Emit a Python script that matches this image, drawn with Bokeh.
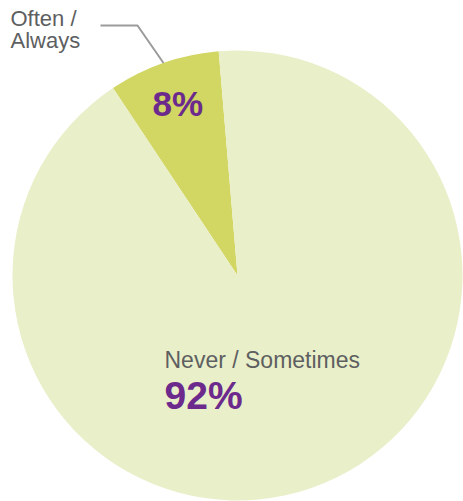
import numpy as np
from bokeh.plotting import figure
from bokeh.models import Range1d, Label
from bokeh.embed import file_html
from bokeh.resources import INLINE

# Data
categories = ["Often / Always", "Never / Sometimes"]
values = [8, 92]
pct_labels = ["8%", "92%"]
colors = ["#D2D662", "#E9EFC9"]

PURPLE = "#6B2A8C"
GRAY = "#5E5F61"
FONT = "Liberation Sans"

# Layout helpers (screen px of reference -> data units, pie centre at 0,0, radius 1)
CX, CY, R = 237.0, 275.0, 225.0


def px(x, y):
    return (x - CX) / R, (CY - y) / R


W, H = 463, 501
x0, y1 = px(0, 0)
x1, y0 = px(W, H)

p = figure(width=W, height=H, output_backend="svg", toolbar_location=None,
           x_range=Range1d(x0, x1), y_range=Range1d(y0, y1),
           min_border=0, outline_line_color=None, background_fill_color="white",
           border_fill_color="white")
p.axis.visible = False
p.grid.visible = False

start_deg = 94.8
fr = np.array(values, dtype=float) / sum(values)
ends = np.deg2rad(start_deg) + np.cumsum(fr) * 2 * np.pi
starts = np.concatenate([[np.deg2rad(start_deg)], ends[:-1]])

p.wedge(x=0, y=0, radius=1.0, start_angle=starts, end_angle=ends,
        fill_color=colors, line_color=None)

# Leader line for the small slice
mid = (starts[0] + ends[0]) / 2
lx, ly = np.cos(mid) * 1.0, np.sin(mid) * 1.0
ex, ey = px(137, 25)
hx, hy = px(100, 25)
p.line(x=[lx, ex, hx], y=[ly, ey, hy], line_color="#9B9B9B", line_width=2)

def add_label(x, y, text, size, color, bold=False):
    # y is the reference baseline; shift for Bokeh's baseline handling
    dx, dy = px(x, y - 0.34 * size)
    p.add_layout(Label(x=dx, y=dy, text=text, text_font=FONT,
                       text_font_size=f"{size}px", text_color=color,
                       text_font_style="bold" if bold else "normal",
                       text_baseline="alphabetic", text_align="left"))

add_label(10, 25, "Often /", 22, GRAY)
add_label(10, 47, "Always", 22, GRAY)
add_label(152, 115, pct_labels[0], 35, PURPLE, bold=True)
add_label(164, 367, "Never / Sometimes", 23, GRAY)
add_label(164, 408, pct_labels[1], 39, PURPLE, bold=True)

open("out.html", "w").write(file_html(p, INLINE))
